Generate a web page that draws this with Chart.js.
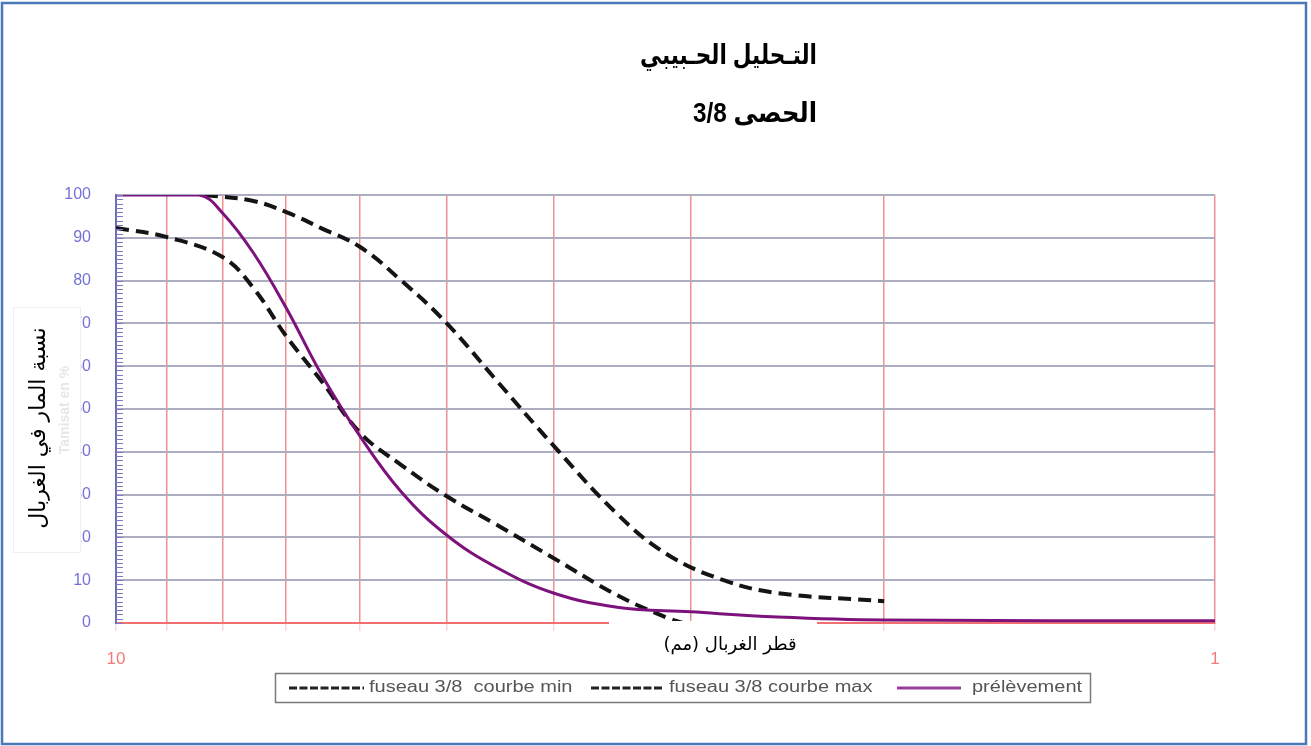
<!DOCTYPE html>
<html>
<head>
<meta charset="utf-8">
<script src="https://cdn.jsdelivr.net/npm/chart.js@4.4.1/dist/chart.umd.min.js"></script>
<style>
  html, body { margin: 0; padding: 0; background: #ffffff; }
  #wrap { position: relative; width: 1311px; height: 746px; }
  canvas { display: block; }
</style>
</head>
<body>
<div id="wrap"><canvas id="grading" width="1311" height="746"></canvas></div>
<script>
// Texts
const titleLines = ['التـحليل الحـبيبي', 'الحصى 3/8'];
const xTitle = 'قطر الغربال (مم)';
const yTitle = 'نسبة المار في الغربال';
const yGhostTitle = 'Tamisat en %';
const seriesNames = ['fuseau 3/8  courbe min', 'fuseau 3/8 courbe max', 'prélèvement'];

// Grading envelope, lower bound (sieve size in mm, % passing)
const minSizes   = [10, 9, 8, 7.5, 7, 6.5, 6, 5.5, 5, 4.5, 4, 3.5, 3.15, 3.05];
const minPassing = [92.3, 90.2, 85.5, 78.3, 67, 56.5, 44.5, 36.9, 29.6, 22.9, 15.2, 6.5, 1.2, 0];

// Grading envelope, upper bound
const maxSizes   = [8.3, 7.5, 7, 6.5, 6, 5.5, 5, 4.5, 4, 3.5, 3.15, 2.8, 2.5, 2];
const maxPassing = [100, 98.6, 96, 92.2, 87.9, 80, 70, 56.5, 41.5, 25.5, 16, 10, 7, 5.1];

// Measured sample
const sampleSizes   = [10, 8.4, 8, 7.5, 7, 6.5, 6, 5.5, 5, 4.5, 4, 3.5, 3, 2.5, 2, 1];
const samplePassing = [100, 100, 95.8, 86.5, 73.6, 58, 43.7, 30.6, 20.5, 12.9, 7, 3.7, 2.6, 1.4, 0.7, 0.5];

// Axis ticks
const sieveTicks = [10, 9, 8, 7, 6, 5, 4, 3, 2, 1];
const sieveLabels = [10, 1];
const passingMin = 0, passingMax = 100, passingStep = 10;

const toPoints = (xs, ys) => xs.map((x, i) => ({ x: x, y: ys[i] }));

const ARABIC_FONT = '"DejaVu Sans", sans-serif';
const LATIN_FONT = '"Liberation Sans", Arial, sans-serif';
const MIXED_FONT = '"Liberation Sans", "DejaVu Sans", sans-serif';

const decor = {
  id: 'decor',
  afterDraw(chart) {
    const ctx = chart.ctx;
    const area = chart.chartArea;
    const ys = chart.scales.y;

    ctx.save();

    // minor ticks on the inside of the passing axis
    ctx.strokeStyle = '#7a7ac8';
    ctx.lineWidth = 1;
    for (let v = passingMin; v <= passingMax; v += 1) {
      const py = Math.round(ys.getPixelForValue(v)) + 0.5;
      ctx.beginPath();
      ctx.moveTo(area.left, py);
      ctx.lineTo(area.left + 7, py);
      ctx.stroke();
    }

    // title block
    ctx.fillStyle = '#000';
    ctx.direction = 'rtl';
    ctx.textAlign = 'right';
    ctx.textBaseline = 'middle';
    ctx.font = 'bold 27px ' + MIXED_FONT;
    [[titleLines[0], 57, 0.8], [titleLines[1], 115, 0.9]].forEach(([txt, ty, sx]) => {
      ctx.save();
      ctx.translate(817, ty);
      ctx.scale(sx, 1);
      ctx.fillText(txt, 0, 0);
      ctx.restore();
    });

    // vertical axis caption on a white card
    ctx.fillStyle = '#fff';
    ctx.fillRect(13, 307, 68, 246);
    ctx.strokeStyle = '#efefef';
    ctx.lineWidth = 1;
    ctx.strokeRect(13.5, 307.5, 67, 245);
    ctx.save();
    ctx.translate(65, 410);
    ctx.rotate(-Math.PI / 2);
    ctx.direction = 'ltr';
    ctx.textAlign = 'center';
    ctx.fillStyle = 'rgba(205,205,215,0.5)';
    ctx.font = 'bold 14px ' + LATIN_FONT;
    ctx.fillText(yGhostTitle, 0, 0);
    ctx.restore();
    ctx.save();
    ctx.translate(39, 428);
    ctx.rotate(-Math.PI / 2);
    ctx.direction = 'rtl';
    ctx.textAlign = 'center';
    ctx.fillStyle = '#000';
    ctx.font = '22px ' + ARABIC_FONT;
    ctx.fillText(yTitle, 0, 0);
    ctx.restore();

    // horizontal axis caption on a white card
    ctx.fillStyle = '#fff';
    ctx.fillRect(609, 621, 208, 46);
    ctx.fillStyle = '#000';
    ctx.direction = 'rtl';
    ctx.textAlign = 'center';
    ctx.font = '18px ' + ARABIC_FONT;
    ctx.fillText(xTitle, 730, 645);

    // legend
    const lx = 275, ly = 673, lw = 815, lh = 29;
    ctx.fillStyle = '#fff';
    ctx.fillRect(lx, ly, lw, lh);
    ctx.strokeStyle = '#7a7a7a';
    ctx.lineWidth = 1.5;
    ctx.strokeRect(lx + 0.5, ly + 0.5, lw, lh);
    const sampleX = [[289, 364], [591, 664], [897, 961]];
    const textX = [369, 669, 972];
    const midY = ly + lh / 2 + 0.5;
    chart.data.datasets.forEach((ds, i) => {
      ctx.save();
      ctx.strokeStyle = ds.legendColor;
      ctx.lineWidth = 3;
      ctx.setLineDash(ds.legendDash);
      ctx.beginPath();
      ctx.moveTo(sampleX[i][0], midY);
      ctx.lineTo(sampleX[i][1], midY);
      ctx.stroke();
      ctx.restore();
      ctx.save();
      ctx.direction = 'ltr';
      ctx.textAlign = 'left';
      ctx.textBaseline = 'middle';
      ctx.fillStyle = '#555';
      ctx.font = '16px ' + LATIN_FONT;
      ctx.translate(textX[i], midY);
      ctx.scale(1.25, 1);
      ctx.fillText(ds.label, 0, 0);
      ctx.restore();
    });

    // page frame
    ctx.strokeStyle = '#4a78b8';
    ctx.lineWidth = 2.5;
    ctx.setLineDash([]);
    ctx.strokeRect(2, 3, 1304, 741);

    ctx.restore();
  }
};

new Chart(document.getElementById('grading'), {
  type: 'line',
  data: {
    datasets: [
      {
        label: seriesNames[0],
        data: toPoints(minSizes, minPassing),
        borderColor: '#141414',
        borderWidth: 4,
        borderDash: [13, 7],
        legendColor: '#222',
        legendDash: [8, 2.5],
        pointRadius: 0,
        fill: false,
        tension: 0.4,
        order: 1
      },
      {
        label: seriesNames[1],
        data: toPoints(maxSizes, maxPassing),
        borderColor: '#141414',
        borderWidth: 4,
        borderDash: [13, 7],
        legendColor: '#222',
        legendDash: [8, 2.5],
        pointRadius: 0,
        fill: false,
        tension: 0.4,
        order: 1
      },
      {
        label: seriesNames[2],
        data: toPoints(sampleSizes, samplePassing),
        borderColor: '#7d127c',
        borderWidth: 3,
        legendColor: '#9a3f98',
        legendDash: [],
        pointRadius: 0,
        fill: false,
        tension: 0.4,
        order: 0
      }
    ]
  },
  options: {
    responsive: false,
    animation: false,
    events: [],
    layout: { padding: { left: 56, right: 96, top: 195, bottom: 73 } },
    plugins: {
      legend: { display: false },
      tooltip: { enabled: false },
      title: { display: false }
    },
    scales: {
      x: {
        type: 'logarithmic',
        reverse: true,
        min: 1,
        max: 10,
        afterBuildTicks: (scale) => { scale.ticks = sieveTicks.map(v => ({ value: v })); },
        afterFit: (scale) => { scale.height = 50; },
        ticks: {
          autoSkip: false,
          maxRotation: 0,
          padding: 18,
          color: '#f07b7b',
          font: { family: LATIN_FONT, size: 17 },
          callback: (value) => (sieveLabels.includes(value) ? String(value) : '')
        },
        grid: {
          color: (c) => (c.tick && c.tick.value === 10 ? 'rgba(0,0,0,0)' : '#f29090'),
          lineWidth: 1.5,
          tickLength: 8,
          tickColor: 'rgba(240,120,120,0.3)'
        },
        border: { color: '#f07070', width: 2 }
      },
      y: {
        min: passingMin,
        max: passingMax,
        afterFit: (scale) => { scale.width = 60; },
        ticks: {
          stepSize: passingStep,
          color: '#7272d6',
          padding: 25,
          font: { family: LATIN_FONT, size: 16 }
        },
        grid: {
          drawTicks: false,
          color: (c) => (c.tick && c.tick.value === 0 ? 'rgba(0,0,0,0)' : '#adadc1'),
          lineWidth: 2
        },
        border: { color: '#6b6bc0', width: 2 }
      }
    }
  },
  plugins: [decor]
});
</script>
</body>
</html>
